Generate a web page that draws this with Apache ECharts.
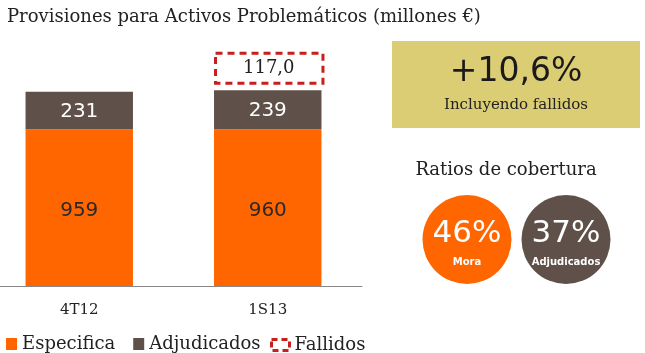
<!DOCTYPE html>
<html>
<head>
<meta charset="utf-8">
<script src="https://cdn.jsdelivr.net/npm/echarts@6/dist/echarts.min.js"></script>
<style>
  html, body { margin: 0; padding: 0; background: #fff; }
  #chart { width: 645px; height: 353px; }
</style>
</head>
<body>
<div id="chart"></div>
<script>
// data
var categories = ['4T12', '1S13'];
var especifica = [959, 960];
var adjudicados = [231, 239];
var fallidos = [null, 117.0];
var totalChange = '+10,6%';
var ratioNames = ['Mora', 'Adjudicados'];
var ratioValues = [46, 37];

var orange = '#ff6600',
    brown = '#5f514a',
    red = '#c81e1e',
    serif = 'DejaVu Serif',
    sans = 'DejaVu Sans';

function createChart() {
    var myChart = echarts.init(document.getElementById('chart'));

    var fallidosData = [];
    for (var i = 0; i < categories.length; i++) {
        if (fallidos[i] != null) {
            fallidosData.push([i, especifica[i] + adjudicados[i], fallidos[i]]);
        }
    }

    var option = {
        animation: false,
        title: {
            text: 'Provisiones para Activos Problemáticos (millones €)',
            left: 2,
            top: 3,
            textStyle: { fontFamily: serif, fontSize: 18, fontWeight: 'normal', color: '#222' }
        },
        grid: { left: -15, right: 283, top: 41, bottom: 67, outerBoundsMode: 'none' },
        xAxis: {
            type: 'category',
            data: categories,
            axisLine: { lineStyle: { color: '#888', width: 1 } },
            axisTick: { show: false },
            axisLabel: { fontFamily: serif, fontSize: 15, color: '#222', margin: 17 }
        },
        yAxis: { type: 'value', min: 0, max: 1500, show: false },
        singleAxis: {
            type: 'category',
            data: ratioNames,
            left: 417.5,
            width: 198,
            top: 195,
            height: 89,
            axisLine: { show: false },
            axisTick: { show: false },
            axisLabel: { show: false },
            splitLine: { show: false }
        },
        legend: [{
            left: 1,
            top: 330,
            selectedMode: false,
            icon: 'rect',
            itemWidth: 11,
            itemHeight: 12,
            itemGap: 18,
            itemStyle: { opacity: 1 },
            data: ['Especifica', 'Adjudicados'],
            textStyle: { fontFamily: serif, fontSize: 18, color: '#222' }
        }, {
            left: 265,
            top: 331,
            selectedMode: false,
            icon: 'rect',
            itemWidth: 18,
            itemHeight: 11,
            data: [{
                name: 'Fallidos',
                itemStyle: { color: 'rgba(0,0,0,0)', borderColor: red, borderWidth: 3, borderType: [6, 4] }
            }],
            textStyle: { fontFamily: serif, fontSize: 18, color: '#222' }
        }],
        graphic: [{
            type: 'rect',
            shape: { x: 392, y: 41, width: 248, height: 87 },
            style: { fill: '#dbcd74' }
        }, {
            type: 'text',
            x: 516, y: 72,
            style: { text: totalChange, fontFamily: sans, fontSize: 33, fill: '#1a1a1a', align: 'center', verticalAlign: 'middle' }
        }, {
            type: 'text',
            x: 516, y: 105,
            style: { text: 'Incluyendo fallidos', fontFamily: serif, fontSize: 15, fill: '#222', align: 'center', verticalAlign: 'middle' }
        }, {
            type: 'text',
            x: 506, y: 170,
            style: { text: 'Ratios de cobertura', fontFamily: serif, fontSize: 18, fill: '#222', align: 'center', verticalAlign: 'middle' }
        }],
        series: [{
            name: 'Especifica',
            type: 'bar',
            stack: 'prov',
            barWidth: '57%',
            data: especifica,
            itemStyle: { color: orange },
            label: {
                show: true,
                position: 'inside',
                offset: [0, 3],
                fontFamily: sans,
                fontSize: 20,
                color: '#2a2a2a'
            }
        }, {
            name: 'Adjudicados',
            type: 'bar',
            stack: 'prov',
            data: adjudicados,
            itemStyle: { color: brown },
            label: {
                show: true,
                position: 'inside',
                offset: [0, 1],
                fontFamily: sans,
                fontSize: 20,
                color: '#fff'
            }
        }, {
            name: 'Fallidos',
            type: 'custom',
            data: fallidosData,
            encode: { x: 0, y: 1 },
            renderItem: function (params, api) {
                var p = api.coord([api.value(0), api.value(1)]);
                var w = api.size([1, 0])[0] * 0.57;
                var h = 30;
                var y = p[1] - 7 - h;
                var txt = api.value(2).toFixed(1).replace('.', ',');
                return {
                    type: 'group',
                    children: [{
                        type: 'rect',
                        shape: { x: p[0] - w / 2 + 1.5, y: y, width: w, height: h },
                        style: { fill: 'rgba(0,0,0,0)', stroke: red, lineWidth: 3, lineDash: [7, 5] }
                    }, {
                        type: 'text',
                        x: p[0] + 1,
                        y: y + h / 2,
                        style: { text: txt, fontFamily: serif, fontSize: 18, fill: '#222', align: 'center', verticalAlign: 'middle' }
                    }]
                };
            }
        }, {
            name: 'Ratios',
            type: 'scatter',
            coordinateSystem: 'singleAxis',
            symbol: 'circle',
            symbolSize: 89,
            data: ratioValues.map(function (v, i) {
                return {
                    value: [i, v],
                    itemStyle: { color: i === 0 ? orange : brown, opacity: 1 }
                };
            }),
            label: {
                show: true,
                position: 'inside',
                offset: [0, 5],
                formatter: function (p) {
                    return '{v|' + p.value[1] + '%}\n{n|' + ratioNames[p.value[0]] + '}';
                },
                rich: {
                    v: { fontFamily: sans, fontSize: 31, color: '#fff', lineHeight: 36 },
                    n: { fontFamily: sans, fontSize: 10, fontWeight: 'bold', color: '#fff', lineHeight: 22 }
                }
            }
        }]
    };

    myChart.setOption(option);
}

createChart();
</script>
</body>
</html>
